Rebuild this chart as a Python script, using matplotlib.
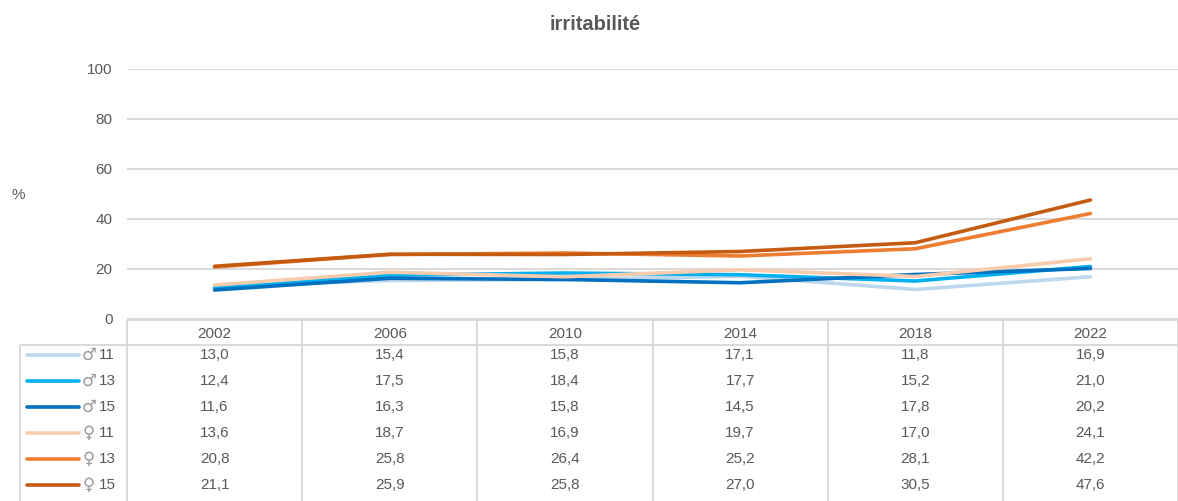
import matplotlib
matplotlib.use("Agg")
import matplotlib.pyplot as plt

years = ["2002", "2006", "2010", "2014", "2018", "2022"]
labels = ["♂ 11", "♂ 13", "♂ 15", "♀ 11", "♀ 13", "♀ 15"]
m11 = [13.0, 15.4, 15.8, 17.1, 11.8, 16.9]
m13 = [12.4, 17.5, 18.4, 17.7, 15.2, 21.0]
m15 = [11.6, 16.3, 15.8, 14.5, 17.8, 20.2]
f11 = [13.6, 18.7, 16.9, 19.7, 17.0, 24.1]
f13 = [20.8, 25.8, 26.4, 25.2, 28.1, 42.2]
f15 = [21.1, 25.9, 25.8, 27.0, 30.5, 47.6]
series = [m11, m13, m15, f11, f13, f15]
colors = ["#BDD7EE", "#00B0F0", "#0070C0", "#F8CBAD", "#ED7D31", "#C55A11"]

W, H = 1178, 501
plt.rcParams['font.family'] = ['Liberation Sans', 'DejaVu Sans']
fig = plt.figure(figsize=(W / 100, H / 100), dpi=100)
txt = "#595959"
grid = "#D9D9D9"
fs = 11

L, R, T, B = 127, 1178, 69, 319
ax = fig.add_axes([L / W, 1 - B / H, (R - L) / W, (B - T) / H])
x = list(range(len(years)))
for s, c in zip(series, colors):
    ax.plot(x, s, color=c, lw=2.6, solid_capstyle='round', zorder=3)
ax.set_xlim(-0.5, len(years) - 0.5)
ax.set_ylim(0, 100)
ax.set_yticks(range(0, 101, 20))
ax.yaxis.grid(True, color=grid, lw=1.4)
ax.set_axisbelow(True)
for sp in ax.spines.values():
    sp.set_visible(False)
ax.tick_params(axis='y', length=0, pad=10.5, labelsize=fs, labelcolor=txt)
ax.set_xticks([])
fig.text(18 / W, 1 - 195 / H, "%", fontsize=fs, color=txt, ha='center', va='center')
fig.text(595 / W, 1 - 25 / H, "irritabilité", fontsize=14.5, fontweight='bold',
         color=txt, ha='center', va='center')

# table overlay in pixel coordinates
tx = fig.add_axes([0, 0, 1, 1], zorder=5)
tx.set_xlim(0, W)
tx.set_ylim(H, 0)
tx.axis('off')
colw = (R - L) / len(years)
hdr_top, hdr_bot = 320, 345
rowh = 26
leg_left = 20
bottom = H + 10
lk = dict(color=grid, lw=1.4, solid_capstyle='butt')
tx.plot([L, R], [hdr_top, hdr_top], **lk)
tx.plot([leg_left, R], [hdr_bot, hdr_bot], **lk)
tx.plot([leg_left, leg_left], [hdr_bot, bottom], **lk)
for i in range(len(years) + 1):
    xx = L + i * colw
    tx.plot([xx, xx], [hdr_top, bottom], **lk)
for i, yv in enumerate(years):
    tx.text(L + (i + 0.5) * colw, (hdr_top + hdr_bot) / 2 + 1, yv, ha='center', va='center',
            fontsize=fs, color=txt)
for r, (s, c, lab) in enumerate(zip(series, colors, labels)):
    yc = hdr_bot + 10 + r * rowh
    sym, age = lab.split(" ")
    tx.plot([27, 79], [yc, yc], color=c, lw=2.6, solid_capstyle='round')
    tx.text(89, yc, sym, ha='center', va='center', fontsize=12, color="#999999",
            family=['DejaVu Sans'])
    tx.text(99, yc, age, ha='left', va='center', fontsize=fs, color=txt)
    for i, v in enumerate(s):
        tx.text(L + (i + 0.5) * colw, yc, f"{v:.1f}".replace('.', ','), ha='center',
                va='center', fontsize=fs, color=txt)

fig.savefig("out.png", dpi=100)
